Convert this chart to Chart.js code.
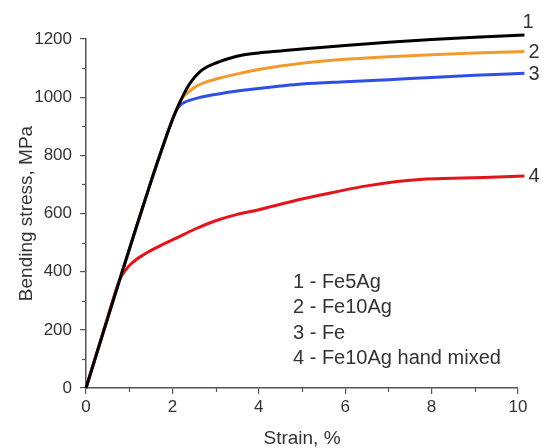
<!DOCTYPE html>
<html>
<head>
<meta charset="utf-8">
<script src="https://cdn.jsdelivr.net/npm/chart.js@4"></script>
<style>
  html, body { margin: 0; padding: 0; background: #fff; }
  #chart { display: block; }
</style>
</head>
<body>
<canvas id="chart" width="545" height="448"></canvas>
<script>
// curve 1 - Fe5Ag
const strain1 = [0, 0.4, 0.8, 1.2, 1.5, 1.8, 2.02, 2.14, 2.27, 2.41, 2.64, 2.95, 3.33, 3.6, 4.0, 4.5, 5.0, 6.0, 7.0, 8.0, 9.0, 10.15];
const stress1 = [0, 192, 382, 570, 708, 840, 930, 972, 1012, 1048, 1088, 1114, 1134, 1144, 1152, 1159, 1166, 1178, 1189, 1198, 1206, 1214];
// curve 2 - Fe10Ag
const strain2 = [0, 0.8, 1.5, 1.8, 2.02, 2.14, 2.22, 2.35, 2.56, 2.8, 3.1, 3.5, 4.0, 4.5, 5.0, 6.0, 7.0, 8.0, 9.0, 10.15];
const stress2 = [0, 382, 708, 840, 930, 972, 995, 1015, 1038, 1053, 1066, 1080, 1095, 1107, 1117, 1130, 1139, 1146, 1152, 1157];
// curve 3 - Fe
const strain3 = [0, 0.8, 1.5, 1.8, 2.02, 2.12, 2.25, 2.56, 2.95, 3.33, 4.0, 4.5, 5.0, 6.0, 7.0, 8.0, 9.0, 10.15];
const stress3 = [0, 382, 708, 840, 930, 962, 980, 996, 1008, 1018, 1030, 1038, 1045, 1053, 1060, 1068, 1075, 1082];
// curve 4 - Fe10Ag hand mixed
const strain4 = [0, 0.4, 0.78, 0.9, 1.05, 1.35, 1.7, 2.1, 2.5, 3.0, 3.5, 4.0, 4.5, 5.0, 5.8, 6.5, 7.2, 7.8, 8.5, 9.2, 10.15];
const stress4 = [0, 192, 372, 402, 428, 460, 488, 516, 545, 575, 597, 613, 632, 650, 675, 695, 710, 718, 721, 724, 729];

const curveNumbers = ['1', '2', '3', '4'];
const curveNames = ['Fe5Ag', 'Fe10Ag', 'Fe', 'Fe10Ag hand mixed'];
const curveColors = ['#000000', '#f39a2e', '#2f4ee6', '#e3141b'];

const xMin = 0, xMax = 10, xStep = 2;
const yMin = 0, yMax = 1200, yStep = 200;

const FONT = "'Liberation Sans', Arial, sans-serif";
const TEXT = '#333333';
const AXIS = '#555555';

function toPoints(xs, ys) {
  return xs.map((x, i) => ({ x, y: ys[i] }));
}

const seriesX = [strain1, strain2, strain3, strain4];
const seriesY = [stress1, stress2, stress3, stress4];

const datasets = seriesX.map((xs, i) => ({
  label: curveNumbers[i] + ' - ' + curveNames[i],
  data: toPoints(xs, seriesY[i]),
  borderColor: curveColors[i],
  borderWidth: 3,
  pointRadius: 0,
  cubicInterpolationMode: 'monotone',
  fill: false,
  clip: false,
}));

// minor ticks, end numbers and the text legend
const extras = {
  id: 'extras',
  afterDraw(chart) {
    const { ctx, chartArea, scales } = chart;
    const xs = scales.x, ys = scales.y;
    ctx.save();
    ctx.strokeStyle = AXIS;
    ctx.lineWidth = 1.2;
    for (let v = xMin + xStep / 2; v < xMax; v += xStep) {
      const px = Math.round(xs.getPixelForValue(v)) + 0.5;
      ctx.beginPath();
      ctx.moveTo(px, chartArea.bottom);
      ctx.lineTo(px, chartArea.bottom + 4);
      ctx.stroke();
    }
    for (let v = yMin + yStep / 2; v < yMax; v += yStep) {
      const py = Math.round(ys.getPixelForValue(v)) + 0.5;
      ctx.beginPath();
      ctx.moveTo(chartArea.left, py);
      ctx.lineTo(chartArea.left - 4, py);
      ctx.stroke();
    }

    ctx.fillStyle = TEXT;
    ctx.font = '20px ' + FONT;
    ctx.textAlign = 'left';
    ctx.textBaseline = 'middle';
    seriesX.forEach((xArr, i) => {
      const n = xArr.length - 1;
      const px = xs.getPixelForValue(xArr[n]);
      const py = ys.getPixelForValue(seriesY[i][n]);
      if (i === 0) ctx.fillText(curveNumbers[i], px - 2, py - 12);
      else ctx.fillText(curveNumbers[i], px + 4, py + 1);
    });

    const lx = chartArea.left + 207;
    let ly = chartArea.top + 243;
    curveNames.forEach((name, i) => {
      ctx.fillText(curveNumbers[i] + ' - ' + name, lx, ly);
      ly += 25.5;
    });
    ctx.restore();
  },
};

new Chart(document.getElementById('chart'), {
  type: 'line',
  data: { datasets },
  options: {
    responsive: false,
    animation: false,
    layout: { padding: { top: 39, right: 27, left: 0, bottom: 0 } },
    plugins: {
      legend: { display: false },
      tooltip: { enabled: false },
    },
    scales: {
      x: {
        type: 'linear',
        min: xMin,
        max: xMax,
        afterFit(scale) { scale.height = 60; },
        ticks: {
          stepSize: xStep,
          color: TEXT,
          padding: 3,
          maxRotation: 0,
          callback: (v) => String(v),
          font: { family: FONT, size: 17 },
        },
        grid: {
          drawOnChartArea: false,
          drawTicks: true,
          tickLength: 6,
          color: AXIS,
          lineWidth: 1.2,
        },
        border: { display: true, color: AXIS, width: 1.5 },
        title: {
          display: true,
          text: 'Strain, %',
          color: TEXT,
          padding: 0,
          font: { family: FONT, size: 19, lineHeight: 1 },
        },
      },
      y: {
        type: 'linear',
        min: yMin,
        max: yMax,
        afterFit(scale) { scale.width = 86; },
        ticks: {
          stepSize: yStep,
          color: TEXT,
          padding: 8,
          callback: (v) => String(v),
          font: { family: FONT, size: 17 },
        },
        grid: {
          drawOnChartArea: false,
          drawTicks: true,
          tickLength: 6,
          color: AXIS,
          lineWidth: 1.2,
        },
        border: { display: true, color: AXIS, width: 1.5 },
        title: {
          display: true,
          text: 'Bending stress, MPa',
          color: TEXT,
          padding: { top: 17, bottom: 0 },
          font: { family: FONT, size: 19, lineHeight: 1 },
        },
      },
    },
  },
  plugins: [extras],
});
</script>
</body>
</html>
